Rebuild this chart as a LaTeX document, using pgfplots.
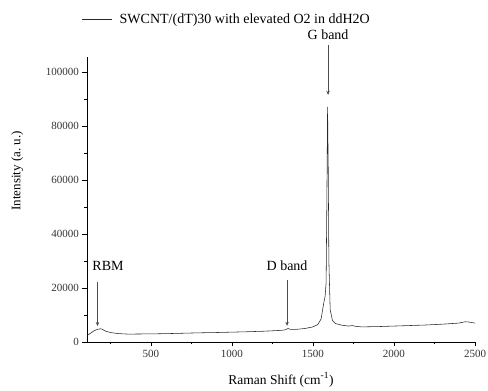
\documentclass[border=0pt]{standalone}
\usepackage{pgfplots}
\pgfplotsset{compat=1.18}
\usepackage{fontspec}
\setmainfont{Liberation Serif}
\usetikzlibrary{arrows.meta}
\begin{document}
\begin{tikzpicture}
\begin{axis}[
  scale only axis,
  width=388pt, height=285pt,
  at={(0,0)}, anchor=south west,
  xmin=105, xmax=2500, ymin=0, ymax=105500,
  axis lines*=left,
  axis line style={line width=0.7pt},
  tick align=outside,
  major tick length=4.5pt,
  minor tick length=2.5pt,
  tick style={line width=0.6pt, black},
  xtick={500,1000,1500,2000,2500},
  minor xtick={250,750,1250,1750,2250},
  ytick={0,20000,40000,60000,80000,100000},
  minor ytick={10000,30000,50000,70000,90000},
  /pgf/number format/fixed,
  /pgf/number format/precision=0,
  /pgf/number format/1000 sep={},
  /pgf/number format/assume math mode=true,
  scaled y ticks=false,
  scaled x ticks=false,
  ticklabel style={font=\fontsize{11}{13}\selectfont, text=black!80},
  xlabel={Raman Shift (cm\textsuperscript{-1})},
  ylabel={Intensity (a.\ u.)},
  xlabel style={font=\fontsize{13.5}{15}\selectfont, at={(axis description cs:0.5,-0.133)}, anchor=center},
  ylabel style={font=\fontsize{13}{15}\selectfont, at={(axis description cs:-0.18,0.6)}, anchor=center},
  clip=false,
  legend style={at={(axis description cs:-0.013,1.133)}, anchor=west, draw=none, fill=none, font=\fontsize{14}{16}\selectfont, inner sep=0pt},
  legend cell align=left,
  legend image code/.code={\draw[#1] (0pt,0pt) -- (30pt,0pt);},
  legend style={/tikz/every odd column/.append style={column sep=5pt}},
]
\addplot[black!85, line width=0.55pt] coordinates {
(105,2400) (130,3400) (150,4200) (170,4700) (190,4900) (200,4700) (220,4000)
(250,3500) (300,3100) (350,2950) (400,2950) (500,3000) (600,3100) (700,3250)
(800,3400) (900,3500) (1000,3650) (1100,3800) (1200,4000) (1300,4300)
(1330,4500) (1345,5000) (1360,4700) (1400,4700) (1450,5000) (1500,5600)
(1530,6500) (1550,8500) (1565,14000) (1575,17000) (1581,22000) (1586,55000)
(1590,87000) (1594,65000) (1598,30000) (1606,12000) (1620,8000) (1640,6800)
(1680,6200) (1720,5900) (1745,6100) (1760,5800) (1800,5600) (1900,5700)
(2000,5900) (2100,6100) (2200,6300) (2300,6600) (2400,7000) (2440,7500)
(2460,7400) (2500,7000)
};
\addlegendentry{SWCNT/(dT)30 with elevated O2 in ddH2O}
\draw[-{Stealth[length=4pt,width=3.5pt]}, black!70, line width=0.5pt] (axis cs:170,22200) -- (axis cs:170,5900);
\draw[-{Stealth[length=4pt,width=3.5pt]}, black!70, line width=0.5pt] (axis cs:1340,22900) -- (axis cs:1340,6000);
\draw[-{Stealth[length=4pt,width=3.5pt]}, black!70, line width=0.5pt] (axis cs:1593,110000) -- (axis cs:1593,91500);
\node[font=\fontsize{14}{16}\selectfont] at (axis cs:235,28100) {RBM};
\node[font=\fontsize{14}{16}\selectfont] at (axis cs:1340,28100) {D band};
\node[font=\fontsize{14}{16}\selectfont] at (axis cs:1593,113700) {G band};
\end{axis}
\pgfresetboundingbox
\useasboundingbox (-87pt,-49pt) rectangle (401pt,342pt);
\end{tikzpicture}
\end{document}
